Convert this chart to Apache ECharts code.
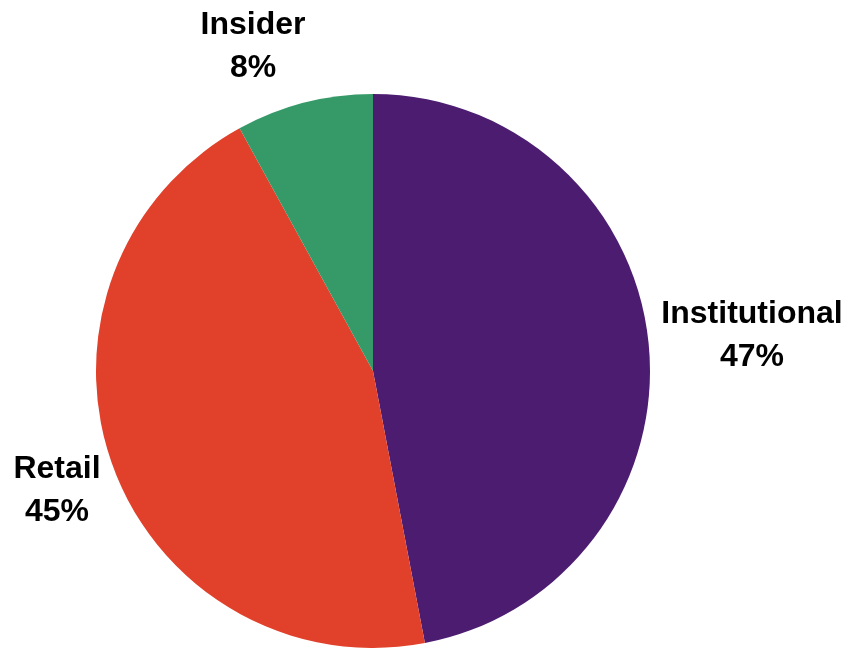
<!DOCTYPE html>
<html>
<head>
<meta charset="utf-8">
<script src="https://cdn.jsdelivr.net/npm/echarts@6/dist/echarts.min.js"></script>
<style>
html,body{margin:0;padding:0;background:#fff;}
#chart{width:843px;height:649px;}
</style>
</head>
<body>
<div id="chart"></div>
<script>
var categories = ['Institutional', 'Retail', 'Insider'];
var values = [47, 45, 8];
var colors = ['#4B1C70', '#E1402A', '#359A68'];

// label anchor placement (layout only)
var labelAnchors = [[752, 336], [57, 491], [253, 47]];

var chart = echarts.init(document.getElementById('chart'), null, {renderer: 'canvas'});
chart.setOption({
  animation: false,
  backgroundColor: '#ffffff',
  series: [{
    type: 'pie',
    center: [373, 371],
    radius: [0, 277],
    startAngle: 90,
    clockwise: true,
    label: {
      show: true,
      position: 'outside',
      overflow: 'none',
      formatter: function (p) { return p.name + '\n' + p.value + '%'; },
      fontFamily: 'Liberation Sans, Arial, sans-serif',
      fontWeight: 'bold',
      fontSize: 32,
      lineHeight: 43,
      color: '#000000'
    },
    labelLine: {show: false, length: 10, length2: 0},
    labelLayout: function (params) {
      var a = labelAnchors[params.dataIndex];
      return {x: a[0], y: a[1], align: 'center', verticalAlign: 'middle'};
    },
    itemStyle: {borderWidth: 0},
    emphasis: {disabled: true},
    data: categories.map(function (c, i) {
      return {name: c, value: values[i], itemStyle: {color: colors[i]}};
    })
  }]
});
</script>
</body>
</html>
